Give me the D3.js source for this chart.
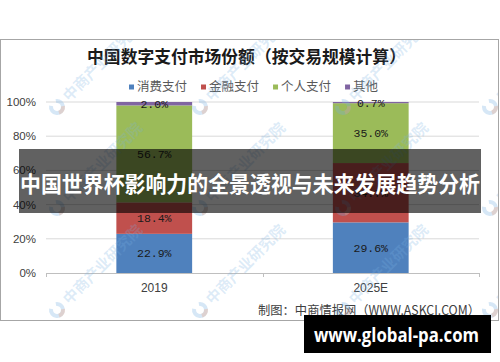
<!DOCTYPE html>
<html><head><meta charset="utf-8">
<script src="https://cdn.jsdelivr.net/npm/d3@7/dist/d3.min.js"></script>
<style>html,body{margin:0;padding:0;background:#fff;}svg{display:block;}</style>
</head><body>
<svg id="c" width="500" height="362"></svg>
<script>
const categories = ["2019", "2025E"];
const seriesNames = ["消费支付", "金融支付", "个人支付", "其他"];
const consumerPay = [22.9, 29.6];
const financialPay = [18.4, 34.7];
const personalPay = [56.7, 35.0];
const otherPay = [2.0, 0.7];
const yTicks = [0, 20, 40, 60, 80, 100];
const colors = ["#4f81bd", "#c0504d", "#9bbb59", "#8064a2"];
const titleText = "中国数字支付市场份额（按交易规模计算）";
const sourceText = "制图：中商情报网（WWW.ASKCI.COM）";
const bannerText = "中国世界杯影响力的全景透视与未来发展趋势分析";
const siteText = "www.global-pa.com";
const watermarkText = "中商产业研究院";

const svg = d3.select("#c");
const cjk = "'Noto Sans CJK SC','Noto Sans',sans-serif";

svg.append("defs").append("clipPath").attr("id", "frameClip")
  .append("rect").attr("x", 1).attr("y", 40).attr("width", 497).attr("height", 280);

// frame
svg.append("rect").attr("x", 0.5).attr("y", 39.5).attr("width", 498).attr("height", 281)
  .attr("fill", "#fff").attr("stroke", "#a6a6a6");

const x = d3.scaleBand().domain(categories).range([46, 479]).paddingInner(0.65).paddingOuter(0.325);
const y = d3.scaleLinear().domain([0, 100]).range([273, 102]);

// gridlines
svg.append("g").selectAll("line").data(yTicks.filter(d => d > 0)).join("line")
  .attr("x1", 46).attr("x2", 479).attr("y1", d => y(d)).attr("y2", d => y(d))
  .attr("stroke", "#d9d9d9").attr("stroke-width", 1);

// y labels
svg.append("g").selectAll("text").data(yTicks).join("text")
  .attr("x", 36).attr("y", d => y(d)).attr("dy", "0.35em").attr("text-anchor", "end")
  .attr("font-family", "'Liberation Sans',Arial,sans-serif").attr("font-size", 11.5).attr("fill", "#404040")
  .text(d => d + "%");

// stacked data
const table = categories.map((c, i) => ({cat: c, s0: consumerPay[i], s1: financialPay[i], s2: personalPay[i], s3: otherPay[i]}));
const stack = d3.stack().keys(["s0", "s1", "s2", "s3"])(table);

const gBars = svg.append("g");
stack.forEach((layer, li) => {
  gBars.selectAll(null).data(layer).join("rect")
    .attr("x", d => x(d.data.cat)).attr("width", x.bandwidth())
    .attr("y", d => y(d[1])).attr("height", d => y(d[0]) - y(d[1]))
    .attr("fill", colors[li]);
});
stack.forEach((layer, li) => {
  gBars.selectAll(null).data(layer).join("text")
    .attr("x", d => x(d.data.cat) + x.bandwidth() / 2)
    .attr("y", d => y((d[0] + d[1]) / 2)).attr("dy", "0.35em")
    .attr("text-anchor", "middle")
    .attr("font-family", "'Liberation Mono','DejaVu Sans Mono',monospace").attr("font-size", 11.5)
    .attr("fill", "#1a1a1a")
    .text(d => (d[1] - d[0]).toFixed(1) + "%");
});

// x axis
const xAxis = svg.append("g");
xAxis.append("line").attr("x1", 46).attr("x2", 479).attr("y1", 273.5).attr("y2", 273.5).attr("stroke", "#bfbfbf");
const edges = [46, ...categories.map(c => x(c) + x.bandwidth() / 2 + x.step() / 2)];
xAxis.selectAll(".tk").data(edges).join("line").attr("class", "tk")
  .attr("x1", d => Math.round(d) + 0.5).attr("x2", d => Math.round(d) + 0.5)
  .attr("y1", 273).attr("y2", 277).attr("stroke", "#bfbfbf");
xAxis.selectAll("text").data(categories).join("text")
  .attr("x", d => x(d) + x.bandwidth() / 2).attr("y", 288).attr("dy", "0.35em")
  .attr("text-anchor", "middle").attr("font-family", "'Liberation Sans',Arial,sans-serif")
  .attr("font-size", 12).attr("fill", "#404040").text(d => d);

// title
svg.append("text").attr("x", 246.5).attr("y", 57).attr("dy", "0.35em").attr("text-anchor", "middle")
  .attr("font-family", cjk).attr("font-weight", 700).attr("font-size", 16.8).attr("fill", "#1a1a1a")
  .text(titleText);

// legend
const leg = svg.append("g");
let lx = 129;
seriesNames.forEach((n, i) => {
  leg.append("rect").attr("x", lx).attr("y", 84.5).attr("width", 5).attr("height", 5).attr("fill", colors[i]);
  const t = leg.append("text").attr("x", lx + 8).attr("y", 87).attr("dy", "0.35em")
    .attr("font-family", cjk).attr("font-size", 12.5).attr("fill", "#595959").text(n);
  lx += 8 + t.node().getComputedTextLength() + 14;
});

// source
svg.append("text").attr("x", 258).attr("y", 311).attr("dy", "0.35em")
  .attr("font-family", cjk).attr("font-size", 12.5).attr("fill", "#404040")
  .attr("textLength", 222).attr("lengthAdjust", "spacingAndGlyphs").text(sourceText);

// watermarks (clipped to the frame)
const wm = svg.append("g").attr("pointer-events", "none").attr("clip-path", "url(#frameClip)");
const wmCols = [57, 200, 343, 490];
const wmRows = [107, 208, 310];
wmRows.forEach(ry => wmCols.forEach(cx => {
  const g = wm.append("g").attr("transform", `translate(${cx},${ry}) rotate(-45)`);
  g.append("path").attr("d", d3.arc()({innerRadius: 4, outerRadius: 8, startAngle: 0.6, endAngle: 2 * Math.PI - 0.6}))
    .attr("fill", "rgba(120,175,225,0.3)");
  g.append("path").attr("d", d3.arc()({innerRadius: 4, outerRadius: 8, startAngle: 2.2, endAngle: 3.6}))
    .attr("fill", "rgba(240,160,120,0.3)");
  g.append("text").attr("x", 12).attr("y", 0).attr("dy", "0.35em")
    .attr("font-family", cjk).attr("font-weight", 700).attr("font-size", 15)
    .attr("fill", "rgba(120,175,225,0.25)").text(watermarkText);
}));

// overlay banner
svg.append("rect").attr("x", 19).attr("y", 149).attr("width", 462).attr("height", 64)
  .attr("fill", "rgba(0,0,0,0.62)");
svg.append("text").attr("x", 250).attr("y", 184).attr("dy", "0.35em").attr("text-anchor", "middle")
  .attr("font-family", cjk).attr("font-weight", 700).attr("font-size", 22).attr("fill", "#fff")
  .attr("textLength", 460).attr("lengthAdjust", "spacingAndGlyphs").text(bannerText);

// site box
svg.append("rect").attr("x", 304).attr("y", 315).attr("width", 187).attr("height", 38).attr("fill", "#000");
svg.append("text").attr("x", 314).attr("y", 342)
  .attr("font-family", "'Open Sans','DejaVu Sans',sans-serif").attr("font-weight", 700).attr("font-size", 19)
  .attr("fill", "#fff").attr("textLength", 165).attr("lengthAdjust", "spacingAndGlyphs").text(siteText);
</script>
</body></html>
